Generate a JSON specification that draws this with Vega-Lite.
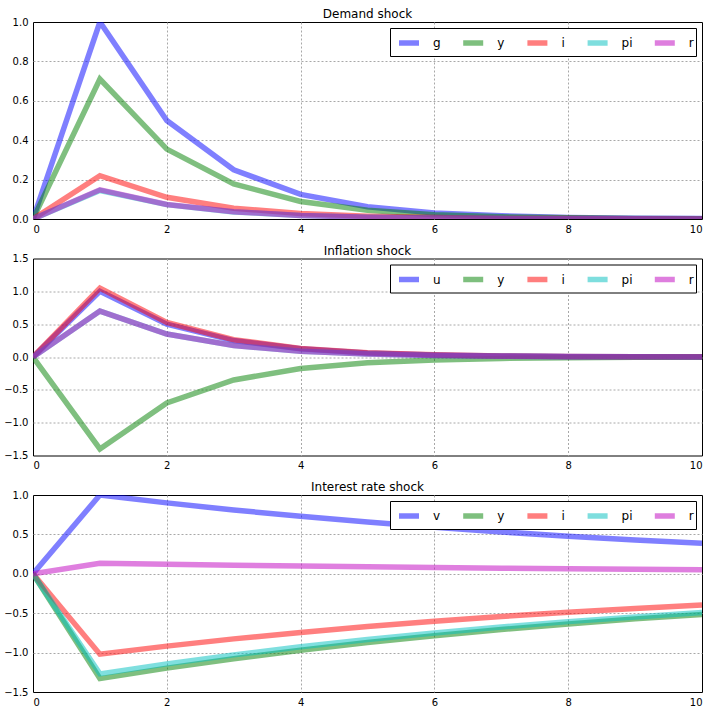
{
  "$schema": "https://vega.github.io/schema/vega-lite/v6.json",
  "padding": {"left": 3, "top": 7, "right": 5, "bottom": 5},
  "background": "white",
  "config": {
    "font": "DejaVu Sans",
    "view": {"stroke": "black", "strokeWidth": 1},
    "axis": {"labelFont": "DejaVu Sans", "labelFontSize": 10, "labelColor": "black", "domain": false, "ticks": false, "grid": true, "gridColor": "#a8a8a8", "gridDash": [2, 2], "gridWidth": 1, "title": null, "labelPadding": 5},
    "title": {"font": "DejaVu Sans", "fontSize": 12, "fontWeight": "normal", "color": "black", "offset": -4, "anchor": "middle", "frame": "group"},
    "legend": {"orient": "none", "legendX": 357, "legendY": 6, "direction": "horizontal", "columns": 5, "symbolType": "stroke", "symbolSize": 400, "symbolStrokeWidth": 5.5, "symbolOpacity": 0.5, "symbolOffset": 4, "labelFont": "DejaVu Sans", "labelFontSize": 12, "labelColor": "black", "labelOffset": 11, "columnPadding": 11.2, "padding": 2, "strokeColor": "black", "strokeWidth": 1, "fillColor": "white", "cornerRadius": 0}
  },
  "datasets": {
    "d": [
      {"p":"D","s":"g","t":0,"v":0},{"p":"D","s":"g","t":1,"v":1},{"p":"D","s":"g","t":2,"v":0.5},{"p":"D","s":"g","t":3,"v":0.25},{"p":"D","s":"g","t":4,"v":0.125},{"p":"D","s":"g","t":5,"v":0.0625},{"p":"D","s":"g","t":6,"v":0.031},{"p":"D","s":"g","t":7,"v":0.016},{"p":"D","s":"g","t":8,"v":0.008},{"p":"D","s":"g","t":9,"v":0.004},{"p":"D","s":"g","t":10,"v":0.002},
      {"p":"D","s":"y","t":0,"v":0},{"p":"D","s":"y","t":1,"v":0.71},{"p":"D","s":"y","t":2,"v":0.355},{"p":"D","s":"y","t":3,"v":0.178},{"p":"D","s":"y","t":4,"v":0.089},{"p":"D","s":"y","t":5,"v":0.044},{"p":"D","s":"y","t":6,"v":0.022},{"p":"D","s":"y","t":7,"v":0.011},{"p":"D","s":"y","t":8,"v":0.006},{"p":"D","s":"y","t":9,"v":0.003},{"p":"D","s":"y","t":10,"v":0.001},
      {"p":"D","s":"i","t":0,"v":0},{"p":"D","s":"i","t":1,"v":0.22},{"p":"D","s":"i","t":2,"v":0.11},{"p":"D","s":"i","t":3,"v":0.055},{"p":"D","s":"i","t":4,"v":0.028},{"p":"D","s":"i","t":5,"v":0.014},{"p":"D","s":"i","t":6,"v":0.007},{"p":"D","s":"i","t":7,"v":0.003},{"p":"D","s":"i","t":8,"v":0.002},{"p":"D","s":"i","t":9,"v":0.001},{"p":"D","s":"i","t":10,"v":0},
      {"p":"D","s":"pi","t":0,"v":0},{"p":"D","s":"pi","t":1,"v":0.145},{"p":"D","s":"pi","t":2,"v":0.073},{"p":"D","s":"pi","t":3,"v":0.036},{"p":"D","s":"pi","t":4,"v":0.018},{"p":"D","s":"pi","t":5,"v":0.009},{"p":"D","s":"pi","t":6,"v":0.005},{"p":"D","s":"pi","t":7,"v":0.002},{"p":"D","s":"pi","t":8,"v":0.001},{"p":"D","s":"pi","t":9,"v":0.001},{"p":"D","s":"pi","t":10,"v":0},
      {"p":"D","s":"r","t":0,"v":0},{"p":"D","s":"r","t":1,"v":0.148},{"p":"D","s":"r","t":2,"v":0.074},{"p":"D","s":"r","t":3,"v":0.037},{"p":"D","s":"r","t":4,"v":0.018},{"p":"D","s":"r","t":5,"v":0.009},{"p":"D","s":"r","t":6,"v":0.005},{"p":"D","s":"r","t":7,"v":0.002},{"p":"D","s":"r","t":8,"v":0.001},{"p":"D","s":"r","t":9,"v":0.001},{"p":"D","s":"r","t":10,"v":0},

      {"p":"F","s":"u","t":0,"v":0},{"p":"F","s":"u","t":1,"v":1},{"p":"F","s":"u","t":2,"v":0.5},{"p":"F","s":"u","t":3,"v":0.25},{"p":"F","s":"u","t":4,"v":0.125},{"p":"F","s":"u","t":5,"v":0.0625},{"p":"F","s":"u","t":6,"v":0.031},{"p":"F","s":"u","t":7,"v":0.016},{"p":"F","s":"u","t":8,"v":0.008},{"p":"F","s":"u","t":9,"v":0.004},{"p":"F","s":"u","t":10,"v":0.002},
      {"p":"F","s":"y","t":0,"v":0},{"p":"F","s":"y","t":1,"v":-1.4},{"p":"F","s":"y","t":2,"v":-0.7},{"p":"F","s":"y","t":3,"v":-0.35},{"p":"F","s":"y","t":4,"v":-0.175},{"p":"F","s":"y","t":5,"v":-0.088},{"p":"F","s":"y","t":6,"v":-0.044},{"p":"F","s":"y","t":7,"v":-0.022},{"p":"F","s":"y","t":8,"v":-0.011},{"p":"F","s":"y","t":9,"v":-0.005},{"p":"F","s":"y","t":10,"v":-0.003},
      {"p":"F","s":"i","t":0,"v":0},{"p":"F","s":"i","t":1,"v":1.05},{"p":"F","s":"i","t":2,"v":0.525},{"p":"F","s":"i","t":3,"v":0.263},{"p":"F","s":"i","t":4,"v":0.131},{"p":"F","s":"i","t":5,"v":0.066},{"p":"F","s":"i","t":6,"v":0.033},{"p":"F","s":"i","t":7,"v":0.016},{"p":"F","s":"i","t":8,"v":0.008},{"p":"F","s":"i","t":9,"v":0.004},{"p":"F","s":"i","t":10,"v":0.002},
      {"p":"F","s":"pi","t":0,"v":0},{"p":"F","s":"pi","t":1,"v":0.7},{"p":"F","s":"pi","t":2,"v":0.35},{"p":"F","s":"pi","t":3,"v":0.175},{"p":"F","s":"pi","t":4,"v":0.088},{"p":"F","s":"pi","t":5,"v":0.044},{"p":"F","s":"pi","t":6,"v":0.022},{"p":"F","s":"pi","t":7,"v":0.011},{"p":"F","s":"pi","t":8,"v":0.005},{"p":"F","s":"pi","t":9,"v":0.003},{"p":"F","s":"pi","t":10,"v":0.001},
      {"p":"F","s":"r","t":0,"v":0},{"p":"F","s":"r","t":1,"v":0.7},{"p":"F","s":"r","t":2,"v":0.35},{"p":"F","s":"r","t":3,"v":0.175},{"p":"F","s":"r","t":4,"v":0.088},{"p":"F","s":"r","t":5,"v":0.044},{"p":"F","s":"r","t":6,"v":0.022},{"p":"F","s":"r","t":7,"v":0.011},{"p":"F","s":"r","t":8,"v":0.005},{"p":"F","s":"r","t":9,"v":0.003},{"p":"F","s":"r","t":10,"v":0.001},

      {"p":"R","s":"v","t":0,"v":0},{"p":"R","s":"v","t":1,"v":1},{"p":"R","s":"v","t":2,"v":0.9},{"p":"R","s":"v","t":3,"v":0.81},{"p":"R","s":"v","t":4,"v":0.729},{"p":"R","s":"v","t":5,"v":0.656},{"p":"R","s":"v","t":6,"v":0.59},{"p":"R","s":"v","t":7,"v":0.531},{"p":"R","s":"v","t":8,"v":0.478},{"p":"R","s":"v","t":9,"v":0.43},{"p":"R","s":"v","t":10,"v":0.387},
      {"p":"R","s":"y","t":0,"v":0},{"p":"R","s":"y","t":1,"v":-1.33},{"p":"R","s":"y","t":2,"v":-1.197},{"p":"R","s":"y","t":3,"v":-1.077},{"p":"R","s":"y","t":4,"v":-0.97},{"p":"R","s":"y","t":5,"v":-0.873},{"p":"R","s":"y","t":6,"v":-0.785},{"p":"R","s":"y","t":7,"v":-0.707},{"p":"R","s":"y","t":8,"v":-0.636},{"p":"R","s":"y","t":9,"v":-0.572},{"p":"R","s":"y","t":10,"v":-0.515},
      {"p":"R","s":"i","t":0,"v":0},{"p":"R","s":"i","t":1,"v":-1.02},{"p":"R","s":"i","t":2,"v":-0.918},{"p":"R","s":"i","t":3,"v":-0.826},{"p":"R","s":"i","t":4,"v":-0.744},{"p":"R","s":"i","t":5,"v":-0.669},{"p":"R","s":"i","t":6,"v":-0.602},{"p":"R","s":"i","t":7,"v":-0.542},{"p":"R","s":"i","t":8,"v":-0.488},{"p":"R","s":"i","t":9,"v":-0.439},{"p":"R","s":"i","t":10,"v":-0.395},
      {"p":"R","s":"pi","t":0,"v":0},{"p":"R","s":"pi","t":1,"v":-1.27},{"p":"R","s":"pi","t":2,"v":-1.143},{"p":"R","s":"pi","t":3,"v":-1.029},{"p":"R","s":"pi","t":4,"v":-0.926},{"p":"R","s":"pi","t":5,"v":-0.833},{"p":"R","s":"pi","t":6,"v":-0.75},{"p":"R","s":"pi","t":7,"v":-0.675},{"p":"R","s":"pi","t":8,"v":-0.607},{"p":"R","s":"pi","t":9,"v":-0.547},{"p":"R","s":"pi","t":10,"v":-0.492},
      {"p":"R","s":"r","t":0,"v":0},{"p":"R","s":"r","t":1,"v":0.135},{"p":"R","s":"r","t":2,"v":0.122},{"p":"R","s":"r","t":3,"v":0.109},{"p":"R","s":"r","t":4,"v":0.098},{"p":"R","s":"r","t":5,"v":0.089},{"p":"R","s":"r","t":6,"v":0.08},{"p":"R","s":"r","t":7,"v":0.072},{"p":"R","s":"r","t":8,"v":0.065},{"p":"R","s":"r","t":9,"v":0.058},{"p":"R","s":"r","t":10,"v":0.052}
    ]
  },
  "bounds": "flush",
  "spacing": 39.5,
  "resolve": {"scale": {"color": "independent", "y": "independent"}, "legend": {"color": "independent"}},
  "vconcat": [
    {
      "title": "Demand shock",
      "width": 669, "height": 197,
      "data": {"name": "d"},
      "transform": [{"filter": "datum.p === 'D'"}],
      "mark": {"type": "line", "strokeWidth": 5.5, "opacity": 0.5, "clip": true},
      "encoding": {
        "x": {"field": "t", "type": "quantitative", "scale": {"domain": [0, 10], "nice": false, "zero": false}, "axis": {"values": [0, 2, 4, 6, 8, 10], "format": "d", "gridOpacity": {"condition": {"test": "datum.value <= 0 || datum.value >= 10", "value": 0}, "value": 1}}},
        "y": {"field": "v", "type": "quantitative", "scale": {"domain": [0, 1], "nice": false}, "axis": {"values": [0, 0.2, 0.4, 0.6, 0.8, 1.0], "format": ".1f", "gridOpacity": {"condition": {"test": "datum.value <= 0 || datum.value >= 1", "value": 0}, "value": 1}}},
        "color": {"field": "s", "type": "nominal", "sort": null, "scale": {"domain": ["g", "y", "i", "pi", "r"], "range": ["#0000ff", "#008000", "#ff0000", "#00bfbf", "#bf00bf"]}, "legend": {"title": null}}
      }
    },
    {
      "title": "Inflation shock",
      "width": 669, "height": 197,
      "data": {"name": "d"},
      "transform": [{"filter": "datum.p === 'F'"}],
      "mark": {"type": "line", "strokeWidth": 5.5, "opacity": 0.5, "clip": true},
      "encoding": {
        "x": {"field": "t", "type": "quantitative", "scale": {"domain": [0, 10], "nice": false, "zero": false}, "axis": {"values": [0, 2, 4, 6, 8, 10], "format": "d", "gridOpacity": {"condition": {"test": "datum.value <= 0 || datum.value >= 10", "value": 0}, "value": 1}}},
        "y": {"field": "v", "type": "quantitative", "scale": {"domain": [-1.5, 1.5], "nice": false}, "axis": {"values": [-1.5, -1.0, -0.5, 0, 0.5, 1.0, 1.5], "format": ".1f", "gridOpacity": {"condition": {"test": "datum.value <= -1.5 || datum.value >= 1.5", "value": 0}, "value": 1}}},
        "color": {"field": "s", "type": "nominal", "sort": null, "scale": {"domain": ["u", "y", "i", "pi", "r"], "range": ["#0000ff", "#008000", "#ff0000", "#00bfbf", "#bf00bf"]}, "legend": {"title": null}}
      }
    },
    {
      "title": "Interest rate shock",
      "width": 669, "height": 197,
      "data": {"name": "d"},
      "transform": [{"filter": "datum.p === 'R'"}],
      "mark": {"type": "line", "strokeWidth": 5.5, "opacity": 0.5, "clip": true},
      "encoding": {
        "x": {"field": "t", "type": "quantitative", "scale": {"domain": [0, 10], "nice": false, "zero": false}, "axis": {"values": [0, 2, 4, 6, 8, 10], "format": "d", "gridOpacity": {"condition": {"test": "datum.value <= 0 || datum.value >= 10", "value": 0}, "value": 1}}},
        "y": {"field": "v", "type": "quantitative", "scale": {"domain": [-1.5, 1.0], "nice": false}, "axis": {"values": [-1.5, -1.0, -0.5, 0, 0.5, 1.0], "format": ".1f", "gridOpacity": {"condition": {"test": "datum.value <= -1.5 || datum.value >= 1", "value": 0}, "value": 1}}},
        "color": {"field": "s", "type": "nominal", "sort": null, "scale": {"domain": ["v", "y", "i", "pi", "r"], "range": ["#0000ff", "#008000", "#ff0000", "#00bfbf", "#bf00bf"]}, "legend": {"title": null}}
      }
    }
  ]
}
